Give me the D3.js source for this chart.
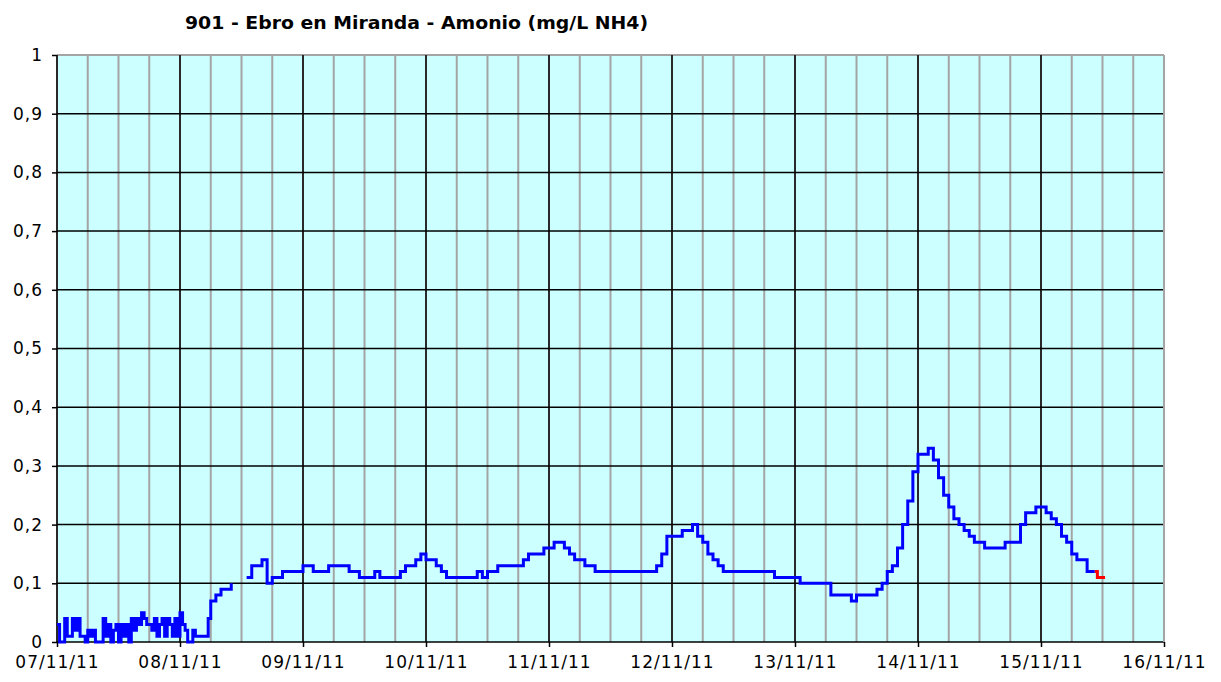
<!DOCTYPE html>
<html>
<head>
<meta charset="utf-8">
<script src="https://cdn.jsdelivr.net/npm/d3@7"></script>
<style>
  body { margin: 0; background: #fff; }
  svg text { font-family: "DejaVu Sans", Verdana, sans-serif; fill: #000; }
</style>
</head>
<body>
<svg id="chart" width="1221" height="682"></svg>
<script>
// ---- data ----
var title = "901 - Ebro en Miranda - Amonio (mg/L NH4)";
var startDay = Date.UTC(2011, 10, 7);   // 07/11/11 00:00
var endDay = Date.UTC(2011, 10, 16);    // 16/11/11 00:00
var yTicks = [0, 0.1, 0.2, 0.3, 0.4, 0.5, 0.6, 0.7, 0.8, 0.9, 1];

// every 30 min from 07/11 00:00 up to 08/11 05:30
var earlyValues = [
  0.03, 0.0, 0.0, 0.04, 0.01, 0.01, 0.04, 0.02, 0.04, 0.01, 0.01, 0.0,
  0.02, 0.01, 0.02, 0.0, 0.0, 0.0,
  0.04, 0.01, 0.03, 0.0, 0.02, 0.03,
  0.0, 0.03, 0.01, 0.03, 0.0, 0.04,
  0.02, 0.04, 0.03, 0.05, 0.04, 0.03,
  0.03, 0.02, 0.04, 0.01, 0.03, 0.04,
  0.01, 0.04, 0.03, 0.01, 0.04, 0.01,
  0.05, 0.03, 0.02, 0.0, 0.0, 0.02,
  0.01, 0.01, 0.01, 0.01, 0.01, 0.04
];
var earlyStep = 0.5; // hours

// hourly from 08/11 06:00 (hour 30) on
var hourlyStart = 30;
var hourlyValues = [
  0.07, 0.08, 0.09, 0.09, 0.10, null, null, 0.11, 0.13, 0.13,
  0.14, 0.10, 0.11, 0.11, 0.12, 0.12, 0.12, 0.12, 0.13, 0.13,
  0.12, 0.12, 0.12, 0.13, 0.13, 0.13, 0.13, 0.12, 0.12, 0.11,
  0.11, 0.11, 0.12, 0.11, 0.11, 0.11, 0.11, 0.12, 0.13, 0.13,
  0.14, 0.15, 0.14, 0.14, 0.13, 0.12, 0.11, 0.11, 0.11, 0.11,
  0.11, 0.11, 0.12, 0.11, 0.12, 0.12, 0.13, 0.13, 0.13, 0.13,
  0.13, 0.14, 0.15, 0.15, 0.15, 0.16, 0.16, 0.17, 0.17, 0.16,
  0.15, 0.14, 0.14, 0.13, 0.13, 0.12, 0.12, 0.12, 0.12, 0.12,
  0.12, 0.12, 0.12, 0.12, 0.12, 0.12, 0.12, 0.13, 0.15, 0.18,
  0.18, 0.18, 0.19, 0.19, 0.20, 0.18, 0.17, 0.15, 0.14, 0.13,
  0.12, 0.12, 0.12, 0.12, 0.12, 0.12, 0.12, 0.12, 0.12, 0.12,
  0.11, 0.11, 0.11, 0.11, 0.11, 0.10, 0.10, 0.10, 0.10, 0.10,
  0.10, 0.08, 0.08, 0.08, 0.08, 0.07, 0.08, 0.08, 0.08, 0.08,
  0.09, 0.10, 0.12, 0.13, 0.16, 0.20, 0.24, 0.29, 0.32, 0.32,
  0.33, 0.31, 0.28, 0.25, 0.23, 0.21, 0.20, 0.19, 0.18, 0.17,
  0.17, 0.16, 0.16, 0.16, 0.16, 0.17, 0.17, 0.17, 0.20, 0.22,
  0.22, 0.23, 0.23, 0.22, 0.21, 0.20, 0.18, 0.17, 0.15, 0.14,
  0.14, 0.12, 0.12
];

// last (not validated) values, every 30 min, in red
var redStart = 202.5;
var redValues = [0.12, 0.11, 0.11, 0.11, 0.11];

(function() {
  // ---- build points ----
  function at(h) { return new Date(startDay + h * 3600000); }

  var bluePts = [];
  earlyValues.forEach(function(v, i) { bluePts.push({t: at(i * earlyStep), v: v}); });
  hourlyValues.forEach(function(v, i) { bluePts.push({t: at(hourlyStart + i), v: v}); });
  bluePts.push({t: at(redStart), v: hourlyValues[hourlyValues.length - 1]});

  var redPts = redValues.map(function(v, i) { return {t: at(redStart + i * 0.5), v: v}; });

  // ---- chart ----
  var svg = d3.select("#chart");
  var pLeft = 57, pRight = 1164, pTop = 55, pBottom = 642;

  var x = d3.scaleUtc().domain([new Date(startDay), new Date(endDay)]).range([pLeft, pRight]);
  var y = d3.scaleLinear().domain([0, 1]).range([pBottom, pTop]);

  svg.append("rect")
    .attr("x", pLeft).attr("y", pTop)
    .attr("width", pRight - pLeft).attr("height", pBottom - pTop)
    .attr("fill", "#ccffff");

  // 6 hour grid lines (grey)
  svg.append("g").selectAll("line")
    .data(d3.utcHour.every(6).range(new Date(startDay), new Date(endDay + 1)))
    .enter().append("line")
    .attr("x1", function(d) { return x(d); }).attr("x2", function(d) { return x(d); })
    .attr("y1", pTop).attr("y2", pBottom)
    .attr("stroke", "#a4a4a4").attr("stroke-width", 2);

  // top border grey
  svg.append("line")
    .attr("x1", pLeft).attr("x2", pRight).attr("y1", pTop).attr("y2", pTop)
    .attr("stroke", "#a4a4a4").attr("stroke-width", 2);

  // horizontal grid lines (black)
  svg.append("g").selectAll("line")
    .data(yTicks.slice(1, -1))
    .enter().append("line")
    .attr("x1", pLeft).attr("x2", pRight)
    .attr("y1", function(d) { return y(d); }).attr("y2", function(d) { return y(d); })
    .attr("stroke", "#000").attr("stroke-width", 1.5);

  // day lines (black)
  svg.append("g").selectAll("line")
    .data(d3.utcDay.range(new Date(startDay + 1), new Date(endDay)))
    .enter().append("line")
    .attr("x1", function(d) { return x(d); }).attr("x2", function(d) { return x(d); })
    .attr("y1", pTop).attr("y2", pBottom)
    .attr("stroke", "#000").attr("stroke-width", 1.5);

  // axes
  var fmtY = function(d) { return (d === 0 || d === 1) ? String(d) : d.toFixed(1).replace(".", ","); };

  var yAxis = svg.append("g")
    .attr("transform", "translate(" + pLeft + ",0)")
    .call(d3.axisLeft(y).tickValues(yTicks).tickSize(5).tickPadding(9).tickFormat(fmtY));

  var xAxis = svg.append("g")
    .attr("transform", "translate(0," + pBottom + ")")
    .call(d3.axisBottom(x).ticks(d3.utcDay.every(1)).tickSize(5).tickPadding(9)
      .tickFormat(d3.utcFormat("%d/%m/%y")));

  [yAxis, xAxis].forEach(function(a) {
    a.select(".domain").attr("stroke", "#000").attr("stroke-width", 1.5);
    a.selectAll(".tick line").attr("stroke", "#000").attr("stroke-width", 1.5);
    a.selectAll("text").style("font-size", "17px").style("letter-spacing", "1px")
      .style("font-family", "'DejaVu Sans', Verdana, sans-serif").attr("fill", "#000");
  });
  yAxis.select(".domain").attr("d", "M0," + pBottom + "V" + pTop);
  xAxis.select(".domain").attr("d", "M" + pLeft + ",0H" + pRight);

  // right border grey
  svg.append("line")
    .attr("x1", pRight).attr("x2", pRight).attr("y1", pTop).attr("y2", pBottom)
    .attr("stroke", "#a4a4a4").attr("stroke-width", 2);

  // series
  var line = d3.line()
    .defined(function(d) { return d.v !== null; })
    .x(function(d) { return x(d.t); })
    .y(function(d) { return y(d.v); })
    .curve(d3.curveStepAfter);

  svg.append("path").datum(bluePts)
    .attr("d", line).attr("fill", "none")
    .attr("stroke", "#0000ff").attr("stroke-width", 3);

  svg.append("path").datum(redPts)
    .attr("d", line).attr("fill", "none")
    .attr("stroke", "#ff0000").attr("stroke-width", 3);

  // title
  svg.append("text")
    .attr("x", 185).attr("y", 29)
    .attr("textLength", 463).attr("lengthAdjust", "spacingAndGlyphs")
    .style("font-size", "17px").style("font-weight", "bold")
    .text(title);
})();
</script>
</body>
</html>
